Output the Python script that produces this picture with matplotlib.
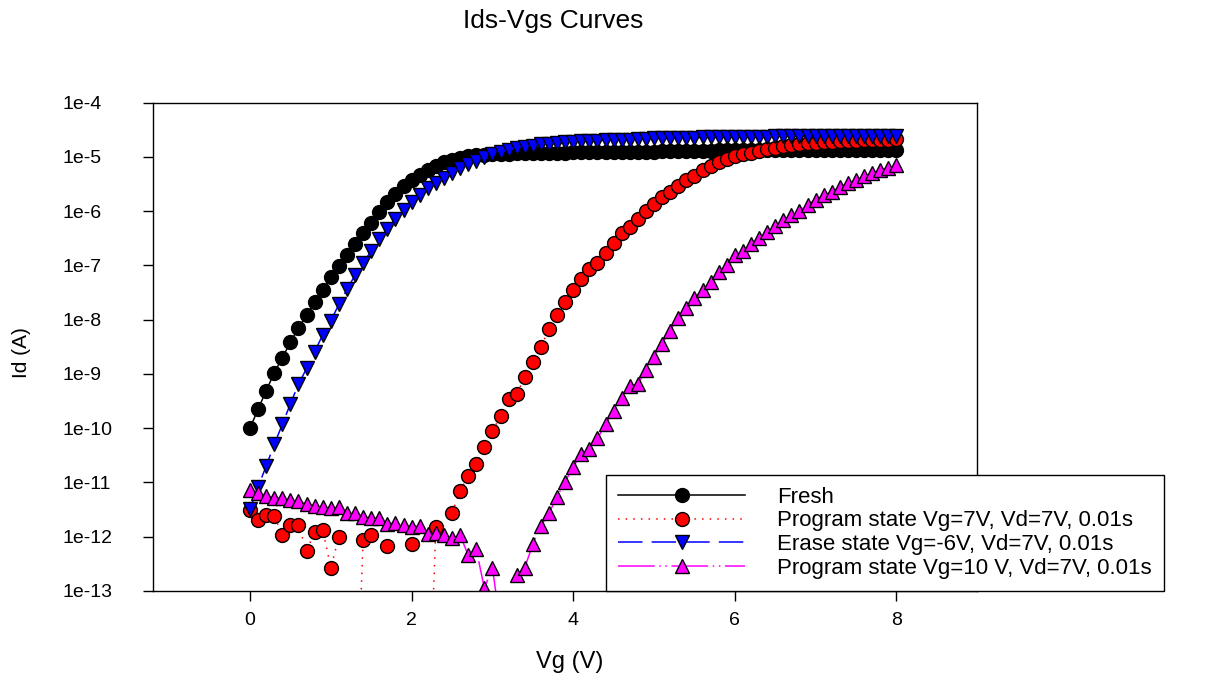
import numpy as np
import matplotlib
matplotlib.use("Agg")
import matplotlib.pyplot as plt

plt.rcParams["font.family"] = ["Liberation Sans", "DejaVu Sans"]

# gate voltage sweep, 0..8 V step 0.1 V
vg = np.round(np.arange(0, 81) * 0.1, 1)

# log10(Id); nan = point not drawn (negative current)
fresh_log = [
    -10.00, -9.65, -9.31, -8.98, -8.70, -8.42, -8.15, -7.92, -7.67, -7.45,
    -7.22, -7.01, -6.80, -6.60, -6.40, -6.21, -6.02, -5.84, -5.68, -5.54,
    -5.42, -5.33, -5.24, -5.16, -5.10, -5.05, -5.02, -4.99, -4.97, -4.96,
    -4.95, -4.94, -4.94, -4.93, -4.93, -4.93, -4.92, -4.92, -4.92, -4.92,
    -4.91, -4.91, -4.91, -4.91, -4.91, -4.90, -4.90, -4.90, -4.90, -4.90,
    -4.90, -4.89, -4.89, -4.89, -4.89, -4.89, -4.89, -4.89, -4.88, -4.88,
    -4.88, -4.88, -4.88, -4.88, -4.88, -4.88, -4.88, -4.88, -4.88, -4.88,
    -4.87, -4.87, -4.87, -4.87, -4.87, -4.87, -4.87, -4.87, -4.87, -4.87,
    -4.87,
]
prog7_log = [
    -11.51, -11.69, -11.60, -11.62, -11.97, -11.79, -11.79, -12.26, -11.91, -11.88,
    -12.57, -12.01, np.nan, -16.0, -12.06, -11.97, np.nan, -12.18, np.nan, np.nan,
    -12.13, np.nan, -16.0, -11.83, np.nan, -11.57, -11.15, -10.89, -10.66, -10.35,
    -10.06, -9.77, -9.47, -9.37, -9.06, -8.78, -8.50, -8.17, -7.92, -7.68,
    -7.46, -7.25, -7.07, -6.95, -6.77, -6.58, -6.40, -6.29, -6.15, -5.99,
    -5.86, -5.74, -5.64, -5.53, -5.43, -5.35, -5.25, -5.17, -5.10, -5.04,
    -4.99, -4.95, -4.92, -4.89, -4.86, -4.83, -4.80, -4.78, -4.76, -4.75,
    -4.74, -4.73, -4.72, -4.71, -4.70, -4.70, -4.69, -4.69, -4.68, -4.68,
    -4.67,
]
erase_log = [
    -11.49, -11.08, -10.70, -10.30, -9.93, -9.55, -9.19, -8.90, -8.59, -8.28,
    -8.02, -7.72, -7.44, -7.18, -6.96, -6.73, -6.52, -6.32, -6.14, -5.98,
    -5.83, -5.70, -5.58, -5.48, -5.38, -5.29, -5.21, -5.13, -5.07, -5.00,
    -4.95, -4.91, -4.87, -4.84, -4.81, -4.79, -4.77, -4.76, -4.74, -4.73,
    -4.72, -4.71, -4.71, -4.70, -4.69, -4.69, -4.68, -4.68, -4.67, -4.67,
    -4.66, -4.66, -4.66, -4.65, -4.65, -4.65, -4.64, -4.64, -4.64, -4.64,
    -4.63, -4.63, -4.63, -4.63, -4.63, -4.62, -4.62, -4.62, -4.62, -4.62,
    -4.62, -4.62, -4.62, -4.61, -4.61, -4.61, -4.61, -4.61, -4.61, -4.61,
    -4.61,
]
prog10_log = [
    -11.14, -11.20, -11.25, -11.28, -11.29, -11.32, -11.34, -11.40, -11.44, -11.46,
    -11.48, -11.46, -11.57, -11.56, -11.63, -11.66, -11.66, -11.77, -11.74, -11.79,
    -11.82, -11.80, -11.95, -11.94, -11.97, -12.03, -11.97, -12.34, -12.23, -12.95,
    -12.57, -13.65, np.nan, -12.71, -12.57, -12.14, -11.80, -11.57, -11.26, -10.99,
    -10.71, -10.48, -10.38, -10.19, -9.93, -9.68, -9.45, -9.23, -9.19, -8.92,
    -8.68, -8.44, -8.20, -7.97, -7.79, -7.60, -7.45, -7.30, -7.13, -6.99,
    -6.80, -6.74, -6.60, -6.49, -6.39, -6.28, -6.17, -6.07, -5.99, -5.88,
    -5.79, -5.71, -5.64, -5.56, -5.48, -5.42, -5.36, -5.30, -5.25, -5.20,
    -5.14,
]

labels = [
    "Fresh",
    "Program state Vg=7V, Vd=7V, 0.01s",
    "Erase state Vg=-6V, Vd=7V, 0.01s",
    "Program state Vg=10 V, Vd=7V, 0.01s",
]
y_ticks = [1e-4, 1e-5, 1e-6, 1e-7, 1e-8, 1e-9, 1e-10, 1e-11, 1e-12, 1e-13]
y_ticklabels = ["1e-4", "1e-5", "1e-6", "1e-7", "1e-8", "1e-9",
                "1e-10", "1e-11", "1e-12", "1e-13"]
x_ticks = [0, 2, 4, 6, 8]

styles = [
    dict(color="black", ls="-", marker="o"),
    dict(color="red", ls=(0, (1, 4)), marker="o"),
    dict(color="blue", ls=(0, (16, 6)), marker="v"),
    dict(color="magenta", ls=(0, (24, 3, 1, 3, 1, 3)), marker="^"),
]
data = [fresh_log, prog7_log, erase_log, prog10_log]

fig = plt.figure(figsize=(12.05, 6.80), dpi=100)
ax = fig.add_axes([0.127, 0.131, 0.684, 0.718])

handles = []
for vals, st, lab in zip(data, styles, labels):
    h, = ax.plot(vg, 10.0 ** np.array(vals, dtype=float), color=st["color"],
                 linestyle=st["ls"], linewidth=1.1, marker=st["marker"],
                 markersize=10, markerfacecolor=st["color"], markeredgecolor="black",
                 markeredgewidth=1.0, label=lab)
    handles.append(h)

ax.set_yscale("log")
ax.set_xlim(-1.2, 9.0)
ax.set_ylim(1e-13, 1e-4)
ax.set_yticks(y_ticks)
ax.set_yticklabels(y_ticklabels)
ax.yaxis.set_minor_locator(matplotlib.ticker.NullLocator())
ax.set_xticks(x_ticks)
ax.tick_params(axis="both", direction="out", length=7, width=1, labelsize=14,
               top=False, right=False)
ax.tick_params(axis="y", pad=58)
for lbl in ax.get_yticklabels():
    lbl.set_horizontalalignment("left")
ax.tick_params(axis="x", pad=8)
for sp in ax.spines.values():
    sp.set_linewidth(1.0)

ax.set_xlabel("Vg (V)", fontsize=17)
ax.xaxis.set_label_coords((570 - 153) / 824, (591 - 651) / 488)
ax.set_ylabel("Id (A)", fontsize=15)
ax.yaxis.set_label_coords((31 - 153) / 824, (591 - 353) / 488)
fig.text(553 / 1205, 1 - 21 / 680, "Ids-Vgs Curves", ha="center", va="center", fontsize=19)

leg = fig.legend(handles=handles, loc="lower left",
                 bbox_to_anchor=(606 / 1205, 89 / 680), fontsize=16,
                 handlelength=5.7, handletextpad=1.45, labelspacing=0.12,
                 borderpad=0.55, borderaxespad=0, fancybox=False, framealpha=1,
                 edgecolor="black", numpoints=1)
leg.get_frame().set_linewidth(1.0)

fig.savefig("out.png", dpi=100)
